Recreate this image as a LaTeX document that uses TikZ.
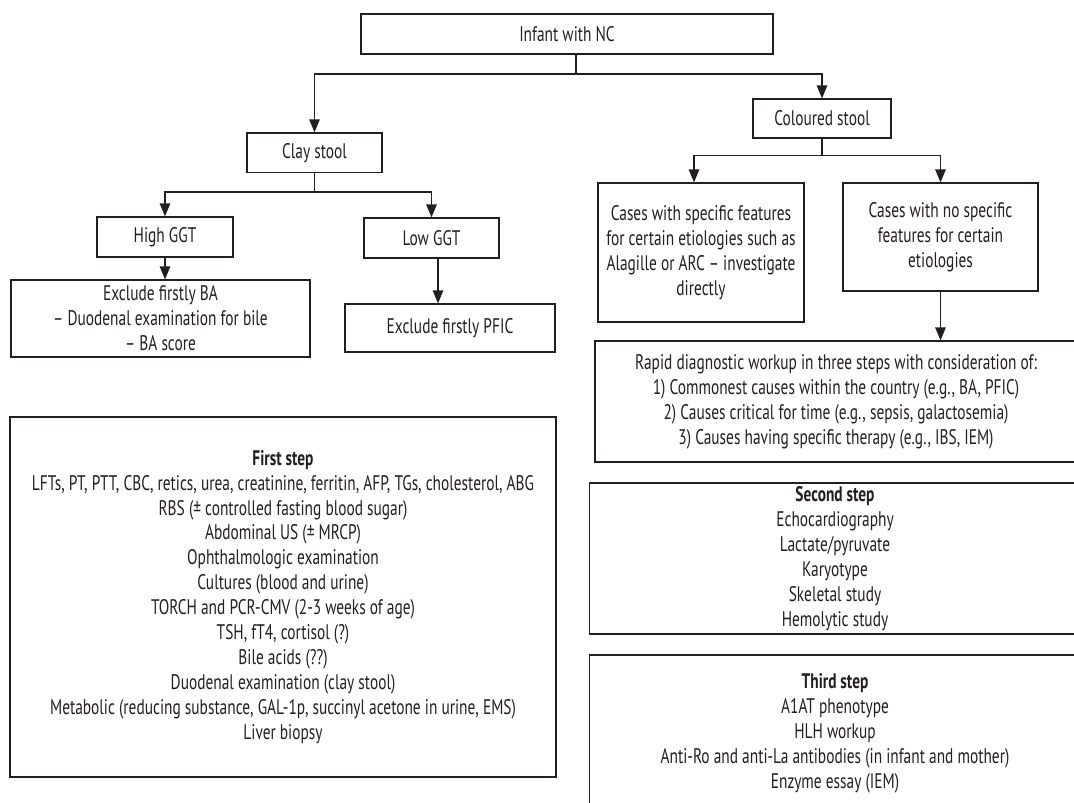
\documentclass[tikz,border=0pt]{standalone}
\usepackage{fontspec}
\setmainfont{PT Sans}[FakeStretch=0.73]
\usetikzlibrary{arrows.meta,positioning}
\definecolor{Ink}{HTML}{231F20}

\begin{document}
\begin{tikzpicture}[x=0.02cm,y=-0.02cm,
    box/.style={draw=Ink,line width=0.7pt,align=center,inner sep=2pt,
      font=\fontsize{12}{14.2}\selectfont,text=Ink},
    flow/.style={-{Triangle[length=2.6mm,width=2.1mm]},draw=Ink,line width=0.7pt},
    link/.style={draw=Ink,line width=0.7pt}]
  \useasboundingbox (0,0) rectangle (1074,803);
  \clip (0,0) rectangle (1074,803);
  % tree
  \node[box,minimum width=8.24cm,minimum height=0.8cm] (infant) at (567,34) {Infant with NC};
  \node[box,minimum width=2.7cm,minimum height=0.79cm] (clay) at (314.5,152.7) {Clay stool};
  \node[box,minimum width=2.76cm,minimum height=0.78cm] (coloured) at (822,118.5) {Coloured stool};
  \node[box,minimum width=2.72cm,minimum height=0.8cm] (high) at (165,237) {High GGT};
  \node[box,minimum width=2.7cm,minimum height=0.8cm] (low) at (431.5,238) {Low GGT};
  \node[box,minimum width=5.98cm,minimum height=1.54cm] (exba) at (160.5,318.5)
    {Exclude firstly BA\\– Duodenal examination for bile\\– BA score};
  \node[box,minimum width=4.2cm,minimum height=0.96cm] (expfic) at (450,328) {Exclude firstly PFIC};
  \node[box,minimum width=4.12cm,minimum height=2.78cm] (spec) at (701,252.5)
    {Cases with specific features\\for certain etiologies such as\\Alagille or ARC – investigate\\directly};
  \node[box,minimum width=3.9cm,minimum height=2.16cm] (nospec) at (940.5,237)
    {Cases with no specific\\features for certain\\etiologies};
  \node[box,minimum width=9.64cm,minimum height=2.42cm] (rapid) at (836,401.5)
    {Rapid diagnostic workup in three steps with consideration of:\\
     1) Commonest causes within the country (e.g., BA, PFIC)\\
     2) Causes critical for time (e.g., sepsis, galactosemia)\\
     3) Causes having specific therapy (e.g., IBS, IEM)};
  % steps
  \node[box,minimum width=10.92cm,minimum height=7.2cm] (first) at (283,597)
    {\textbf{First step}\\
     LFTs, PT, PTT, CBC, retics, urea, creatinine, ferritin, AFP, TGs, cholesterol, ABG\\
     RBS (± controlled fasting blood sugar)\\
     Abdominal US (± MRCP)\\
     Ophthalmologic examination\\
     Cultures (blood and urine)\\
     TORCH and PCR-CMV (2-3 weeks of age)\\
     TSH, fT4, cortisol (?)\\
     Bile acids (??)\\
     Duodenal examination (clay stool)\\
     Metabolic (reducing substance, GAL-1p, succinyl acetone in urine, EMS)\\
     Liver biopsy};
  \node[box,minimum width=9.82cm,minimum height=3.02cm] (second) at (835,558.5)
    {\textbf{Second step}\\
     Echocardiography\\
     Lactate/pyruvate\\
     Karyotype\\
     Skeletal study\\
     Hemolytic study};
  \node[box,minimum width=9.82cm,minimum height=3.12cm] (third) at (835,733)
    {\textbf{Third step}\\
     A1AT phenotype\\
     HLH workup\\
     Anti-Ro and anti-La antibodies (in infant and mother)\\
     Enzyme essay (IEM)};
  % connectors
  \coordinate (fork0) at (576,74);
  \draw[link] (infant.south -| fork0) -- (fork0);
  \draw[flow] (fork0) -| (clay.north);
  \draw[flow] (fork0) -| (coloured.north);
  \draw[link] (clay.south) -- ++(0,19) coordinate (fork1);
  \draw[flow] (fork1) -| (high.north);
  \draw[flow] (fork1) -| (low.north);
  \draw[link] (coloured.south) -- ++(0,17) coordinate (fork2);
  \draw[flow] (fork2) -| ([xshift=-0.14cm]spec.north);
  \draw[flow] (fork2) -| (nospec.north);
  \draw[flow] (high.south) -- (high.south |- exba.north);
  \draw[flow] ([xshift=0.13cm]low.south) -- ([xshift=0.13cm]low.south |- expfic.north);
  \draw[flow] (nospec.south) -- (nospec.south |- rapid.north);
\end{tikzpicture}
\end{document}
